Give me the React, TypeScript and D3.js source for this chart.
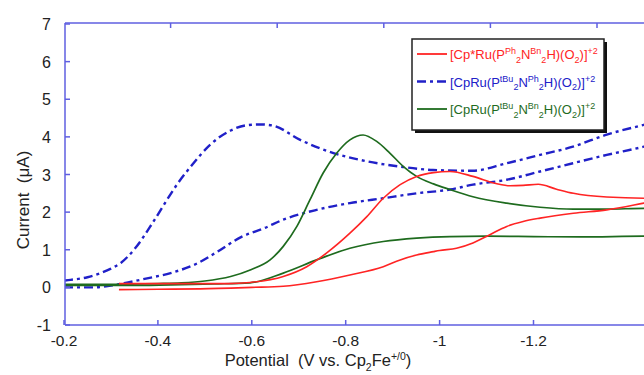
import React from "react";
import * as d3 from "d3";

type Pt = [number, number];

const xTicks = [-0.2, -0.4, -0.6, -0.8, -1, -1.2];
const yTicks = [-1, 0, 1, 2, 3, 4, 5, 6, 7];
const topTicks = [1, 2, 3, 4, 5];

const blueUpper: Pt[] = [
  [-0.2, 0.18], [-0.214, 0.2], [-0.25, 0.27], [-0.278, 0.38], [-0.3, 0.5], [-0.321, 0.65],
  [-0.349, 1.0], [-0.388, 1.7], [-0.413, 2.2], [-0.441, 2.74], [-0.47, 3.21], [-0.512, 3.8],
  [-0.555, 4.17], [-0.59, 4.31], [-0.62, 4.33], [-0.645, 4.3], [-0.703, 3.92], [-0.774, 3.57],
  [-0.845, 3.35], [-0.916, 3.21], [-0.986, 3.12], [-1.07, 3.1], [-1.143, 3.3], [-1.214, 3.52],
  [-1.284, 3.74], [-1.356, 4.06], [-1.435, 4.32], [-1.46, 4.4],
];
const blueLower: Pt[] = [
  [-0.2, 0.0], [-0.26, 0.0], [-0.3, 0.05], [-0.328, 0.11], [-0.377, 0.24], [-0.427, 0.38],
  [-0.484, 0.64], [-0.527, 0.95], [-0.576, 1.33], [-0.626, 1.57], [-0.667, 1.8], [-0.738, 2.06],
  [-0.809, 2.24], [-0.88, 2.37], [-0.951, 2.5], [-1.022, 2.6], [-1.071, 2.73], [-1.143, 2.86],
  [-1.214, 3.08], [-1.284, 3.3], [-1.356, 3.52], [-1.435, 3.74], [-1.46, 3.82],
];
const greenUpper: Pt[] = [
  [-0.2, 0.08], [-0.3, 0.08], [-0.4, 0.1], [-0.45, 0.12], [-0.5, 0.17], [-0.555, 0.29],
  [-0.598, 0.47], [-0.639, 0.73], [-0.667, 1.09], [-0.696, 1.62], [-0.724, 2.33], [-0.752, 3.04],
  [-0.781, 3.57], [-0.809, 3.92], [-0.837, 4.05], [-0.866, 3.88], [-0.894, 3.57], [-0.923, 3.21],
  [-0.951, 2.95], [-0.987, 2.75], [-1.022, 2.6], [-1.071, 2.41], [-1.143, 2.24], [-1.214, 2.13],
  [-1.285, 2.08], [-1.356, 2.08], [-1.435, 2.1], [-1.46, 2.1],
];
const greenLower: Pt[] = [
  [-0.2, 0.05], [-0.35, 0.05], [-0.45, 0.07], [-0.52, 0.09], [-0.596, 0.12], [-0.667, 0.38],
  [-0.738, 0.73], [-0.809, 1.04], [-0.88, 1.22], [-0.951, 1.31], [-1.022, 1.35], [-1.1, 1.36],
  [-1.2, 1.35], [-1.3, 1.34], [-1.435, 1.36], [-1.46, 1.36],
];
const redUpper: Pt[] = [
  [-0.317, 0.1], [-0.4, 0.1], [-0.49, 0.1], [-0.55, 0.1], [-0.596, 0.13], [-0.667, 0.29],
  [-0.717, 0.55], [-0.759, 0.91], [-0.809, 1.44], [-0.845, 1.88], [-0.88, 2.37], [-0.916, 2.73],
  [-0.951, 2.95], [-0.987, 3.05], [-1.022, 3.08], [-1.071, 2.95], [-1.12, 2.76], [-1.15, 2.7],
  [-1.178, 2.71], [-1.21, 2.74], [-1.249, 2.61], [-1.285, 2.5], [-1.356, 2.4], [-1.435, 2.37],
  [-1.46, 2.37],
];
const redLower: Pt[] = [
  [-0.317, -0.06], [-0.4, -0.05], [-0.49, -0.04], [-0.6, 0.0], [-0.667, 0.03], [-0.738, 0.15],
  [-0.809, 0.33], [-0.88, 0.55], [-0.916, 0.73], [-0.951, 0.86], [-0.987, 0.95], [-1.0, 0.98],
  [-1.036, 1.04], [-1.071, 1.18], [-1.107, 1.4], [-1.143, 1.62], [-1.178, 1.75], [-1.214, 1.84],
  [-1.285, 1.97], [-1.356, 2.06], [-1.435, 2.24], [-1.46, 2.3],
];

type Seg = { t: string; s?: "sup" | "sub" };
const labelRed: Seg[] = [
  { t: "[Cp*Ru(P" }, { t: "Ph", s: "sup" }, { t: "2", s: "sub" }, { t: "N" }, { t: "Bn", s: "sup" },
  { t: "2", s: "sub" }, { t: "H)(O" }, { t: "2", s: "sub" }, { t: ")]" }, { t: "+2", s: "sup" },
];
const labelBlue: Seg[] = [
  { t: "[CpRu(P" }, { t: "tBu", s: "sup" }, { t: "2", s: "sub" }, { t: "N" }, { t: "Ph", s: "sup" },
  { t: "2", s: "sub" }, { t: "H)(O" }, { t: "2", s: "sub" }, { t: ")]" }, { t: "+2", s: "sup" },
];
const labelGreen: Seg[] = [
  { t: "[CpRu(P" }, { t: "tBu", s: "sup" }, { t: "2", s: "sub" }, { t: "N" }, { t: "Bn", s: "sup" },
  { t: "2", s: "sub" }, { t: "H)(O" }, { t: "2", s: "sub" }, { t: ")]" }, { t: "+2", s: "sup" },
];
const xTitle: Seg[] = [
  { t: "Potential\u00a0\u00a0(V vs. Cp" }, { t: "2", s: "sub" }, { t: "Fe" }, { t: "+/0", s: "sup" }, { t: ")" },
];

const RED = "#ff2424";
const BLUE = "#2020c8";
const GREEN = "#1e6b1e";
const AXIS = "#5f5fe0";
const FONT = "Liberation Sans, Arial, sans-serif";

function RichText({ segs, x, y, size, small, fill, anchor }: { segs: Seg[]; x: number; y: number; size: number; small: number; fill: string; anchor?: string }) {
  let cur = 0;
  const off = (s?: string) => (s === "sup" ? -size * 0.38 : s === "sub" ? size * 0.3 : 0);
  return (
    <text x={x} y={y} fontSize={size} fill={fill} fontFamily={FONT} textAnchor={anchor || "start"}>
      {segs.map((g, i) => {
        const target = off(g.s);
        const dy = target - cur;
        cur = target;
        return (
          <tspan key={i} dy={dy} fontSize={g.s ? small : size}>
            {g.t}
          </tspan>
        );
      })}
    </text>
  );
}

export default function App() {
  const W = 644, H = 375;
  const x = d3.scaleLinear().domain([-0.2, -1.45]).range([64, 64 + 6.25 * 93.9]);
  const y = d3.scaleLinear().domain([-1, 7]).range([325, 24]);
  const xTop = d3.scaleLinear().domain([0, 6]).range([64, 64 + 6 * 106.6]);
  const line = d3.line<Pt>().x((d) => x(d[0])).y((d) => y(d[1])).curve(d3.curveMonotoneX);

  const series = [
    { d: blueUpper, c: BLUE, dash: "9,4,3,4", w: 2.4 },
    { d: blueLower, c: BLUE, dash: "9,4,3,4", w: 2.4 },
    { d: greenUpper, c: GREEN, dash: undefined, w: 1.7 },
    { d: greenLower, c: GREEN, dash: undefined, w: 1.7 },
    { d: redUpper, c: RED, dash: undefined, w: 1.6 },
    { d: redLower, c: RED, dash: undefined, w: 1.6 },
  ];
  const legend = [
    { segs: labelRed, c: RED, dash: undefined as string | undefined, w: 1.8 },
    { segs: labelBlue, c: BLUE, dash: "9,4,3,4", w: 2.4 },
    { segs: labelGreen, c: GREEN, dash: undefined, w: 1.8 },
  ];

  return (
    <svg width={W} height={H} style={{ position: "absolute", left: 0, top: 0, background: "#fff" }}>
      <rect x={0} y={0} width={W} height={H} fill="#fff" />
      <defs>
        <clipPath id="plotclip">
          <rect x={65} y={23} width={W - 65} height={302} />
        </clipPath>
      </defs>
      <g clipPath="url(#plotclip)">
        {series.map((s, i) => (
          <path key={i} d={line(s.d) || ""} fill="none" stroke={s.c} strokeWidth={s.w} strokeDasharray={s.dash} strokeLinejoin="round" />
        ))}
      </g>
      <line x1={65} x2={W} y1={325} y2={325} stroke={AXIS} strokeWidth={1.5} />
      <line x1={65} x2={W} y1={23} y2={23} stroke={AXIS} strokeWidth={1.5} />
      <line x1={65} x2={65} y1={23} y2={325} stroke={AXIS} strokeWidth={1.5} />
      {xTicks.map((t) => (
        <g key={"x" + t}>
          <line x1={x(t)} x2={x(t)} y1={325} y2={320} stroke={AXIS} strokeWidth={1.5} />
          <text x={x(t)} y={345.5} fontSize={15.5} fontFamily={FONT} textAnchor="middle" fill="#222">
            {String(t)}
          </text>
        </g>
      ))}
      {topTicks.map((t) => (
        <line key={"t" + t} x1={xTop(t)} x2={xTop(t)} y1={23} y2={28} stroke={AXIS} strokeWidth={1.5} />
      ))}
      {yTicks.map((t) => (
        <g key={"y" + t}>
          <line x1={65} x2={70} y1={y(t)} y2={y(t)} stroke={AXIS} strokeWidth={1.5} />
          <text x={51} y={y(t) + 6} fontSize={16} fontFamily={FONT} textAnchor="end" fill="#222">
            {String(t)}
          </text>
        </g>
      ))}
      <text transform={`translate(29,200) rotate(-90)`} fontSize={17} fontFamily={FONT} textAnchor="middle" fill="#222">
        {"Current\u00a0\u00a0(\u03bcA)"}
      </text>
      <RichText segs={xTitle} x={318} y={366} size={16.5} small={10.5} fill="#222" anchor="middle" />
      <rect x={415} y={42} width={192} height={91} fill="#111" />
      <rect x={412} y={39} width={192} height={91} fill="#fff" stroke="#222" strokeWidth={1.5} />
      {legend.map((l, i) => {
        const ly = 54 + i * 27.5;
        return (
          <g key={"l" + i}>
            <line x1={417} x2={447} y1={ly} y2={ly} stroke={l.c} strokeWidth={l.w} strokeDasharray={l.dash} />
            <RichText segs={l.segs} x={450} y={ly + 5} size={13} small={9} fill={l.c} />
          </g>
        );
      })}
    </svg>
  );
}
